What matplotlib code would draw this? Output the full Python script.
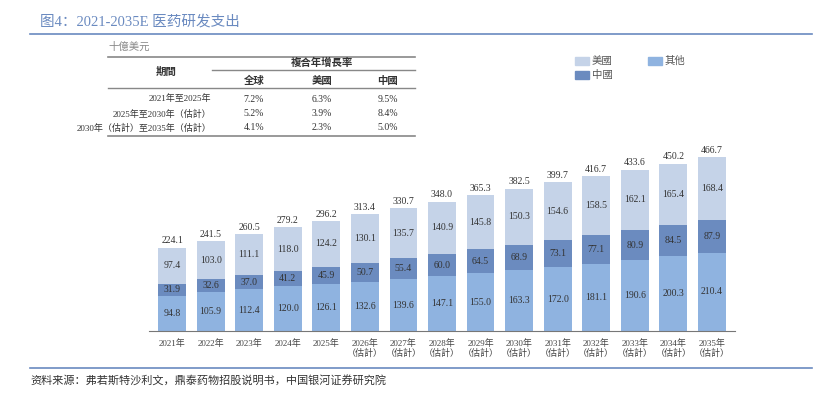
import matplotlib
matplotlib.use("Agg")
import matplotlib.pyplot as plt
from matplotlib.patches import Rectangle
from matplotlib.lines import Line2D

years = ["2021年", "2022年", "2023年", "2024年", "2025年"] + [f"{y}年\n（估計）" for y in range(2026, 2036)]
other = [94.8, 105.9, 112.4, 120.0, 126.1, 132.6, 139.6, 147.1, 155.0, 163.3, 172.0, 181.1, 190.6, 200.3, 210.4]
china = [31.9, 32.6, 37.0, 41.2, 45.9, 50.7, 55.4, 60.0, 64.5, 68.9, 73.1, 77.1, 80.9, 84.5, 87.9]
usa = [97.4, 103.0, 111.1, 118.0, 124.2, 130.1, 135.7, 140.9, 145.8, 150.3, 154.6, 158.5, 162.1, 165.4, 168.4]
totals = [224.1, 241.5, 260.5, 279.2, 296.2, 313.4, 330.7, 348.0, 365.3, 382.5, 399.7, 416.7, 433.6, 450.2, 466.7]
periods = ["2021年至2025年", "2025年至2030年（估計）", "2030年（估計）至2035年（估計）"]
cagr_global = ["7.2%", "5.2%", "4.1%"]
cagr_us = ["6.3%", "3.9%", "2.3%"]
cagr_cn = ["9.5%", "8.4%", "5.0%"]

FAM = ["Liberation Serif", "Noto Sans CJK SC"]
plt.rcParams['font.family'] = FAM
W, H = 831, 400
fig = plt.figure(figsize=(W/100, H/100), dpi=100)

def fx(x): return x / W
def fy(y): return 1 - y / H

c_us, c_cn, c_ot = "#c5d3e8", "#6b8bbf", "#8fb3e0"
ax = fig.add_axes([fx(149), fy(331), 586/W, 186/H])
x = list(range(len(years)))
ax.bar(x, other, 0.72, color=c_ot)
ax.bar(x, china, 0.72, bottom=other, color=c_cn)
b2 = [o + c for o, c in zip(other, china)]
ax.bar(x, usa, 0.72, bottom=b2, color=c_us)
for i in x:
    ax.text(i, other[i]/2, f"{other[i]:.1f}", ha="center", va="center", fontsize=7, color="#333")
    ax.text(i, other[i] + china[i]/2, f"{china[i]:.1f}", ha="center", va="center", fontsize=7, color="#333")
    ax.text(i, b2[i] + usa[i]/2, f"{usa[i]:.1f}", ha="center", va="center", fontsize=7, color="#333")
    ax.text(i, totals[i] + 6, f"{totals[i]:.1f}", ha="center", va="bottom", fontsize=7, color="#333")
ax.set_xlim(-0.6, 14.6)
ax.set_ylim(0, 500)
ax.set_yticks([])
ax.set_xticks(x)
ax.set_xticklabels(years, fontsize=6.5, color="#444", linespacing=1.1)
ax.tick_params(axis="x", length=0, pad=6)
for s in ["top", "right", "left"]:
    ax.spines[s].set_visible(False)
ax.spines["bottom"].set_color("#777")

def hline(y, x0, x1, color="#777", lw=1.0):
    fig.add_artist(Line2D([fx(x0), fx(x1)], [fy(y), fy(y)], color=color, lw=lw))

# title
fig.text(fx(40), fy(22), "图4：2021-2035E 医药研发支出", fontsize=10.5, color="#6a8ac0", va="center",
         family=["Liberation Serif", "Noto Sans CJK SC"])
hline(34, 30, 812, "#6a8ac0", 1.2)
hline(368, 30, 812, "#6a8ac0", 1.2)
fig.text(fx(30), fy(381), "资料来源：弗若斯特沙利文，鼎泰药物招股说明书，中国银河证券研究院", fontsize=8,
         style="italic", va="center", color="#333")

# table
fig.text(fx(108), fy(47), "十億美元", fontsize=7.5, color="#888", va="center")
hline(57, 108, 415, "#888", 1.2)
hline(70, 212, 415, "#888", 1.0)
hline(88, 108, 415, "#888", 1.0)
hline(136, 108, 415, "#888", 1.2)
fig.text(fx(166), fy(72), "期間", fontsize=7.5, weight="bold", ha="center", va="center", color="#333")
fig.text(fx(322), fy(63), "複合年增長率", fontsize=7.5, weight="bold", ha="center", va="center", color="#333")
for xx, t in [(254, "全球"), (322, "美國"), (388, "中國")]:
    fig.text(fx(xx), fy(81), t, fontsize=7.5, weight="bold", ha="center", va="center", color="#333")
for r, yy in enumerate([99, 114, 128]):
    fig.text(fx(211), fy(yy), periods[r], fontsize=6.5, ha="right", va="center", color="#333")
    fig.text(fx(254), fy(yy), cagr_global[r], fontsize=7, ha="center", va="center", color="#333")
    fig.text(fx(322), fy(yy), cagr_us[r], fontsize=7, ha="center", va="center", color="#333")
    fig.text(fx(388), fy(yy), cagr_cn[r], fontsize=7, ha="center", va="center", color="#333")

# legend
for (lx, ly, c, t) in [(575, 61, c_us, "美國"), (575, 75, c_cn, "中國"), (648, 61, c_ot, "其他")]:
    fig.add_artist(Rectangle((fx(lx), fy(ly + 4)), 14/W, 8/H, color=c))
    fig.text(fx(lx + 17), fy(ly), t, fontsize=7.5, va="center", color="#555")

fig.savefig("out.png", dpi=100)
